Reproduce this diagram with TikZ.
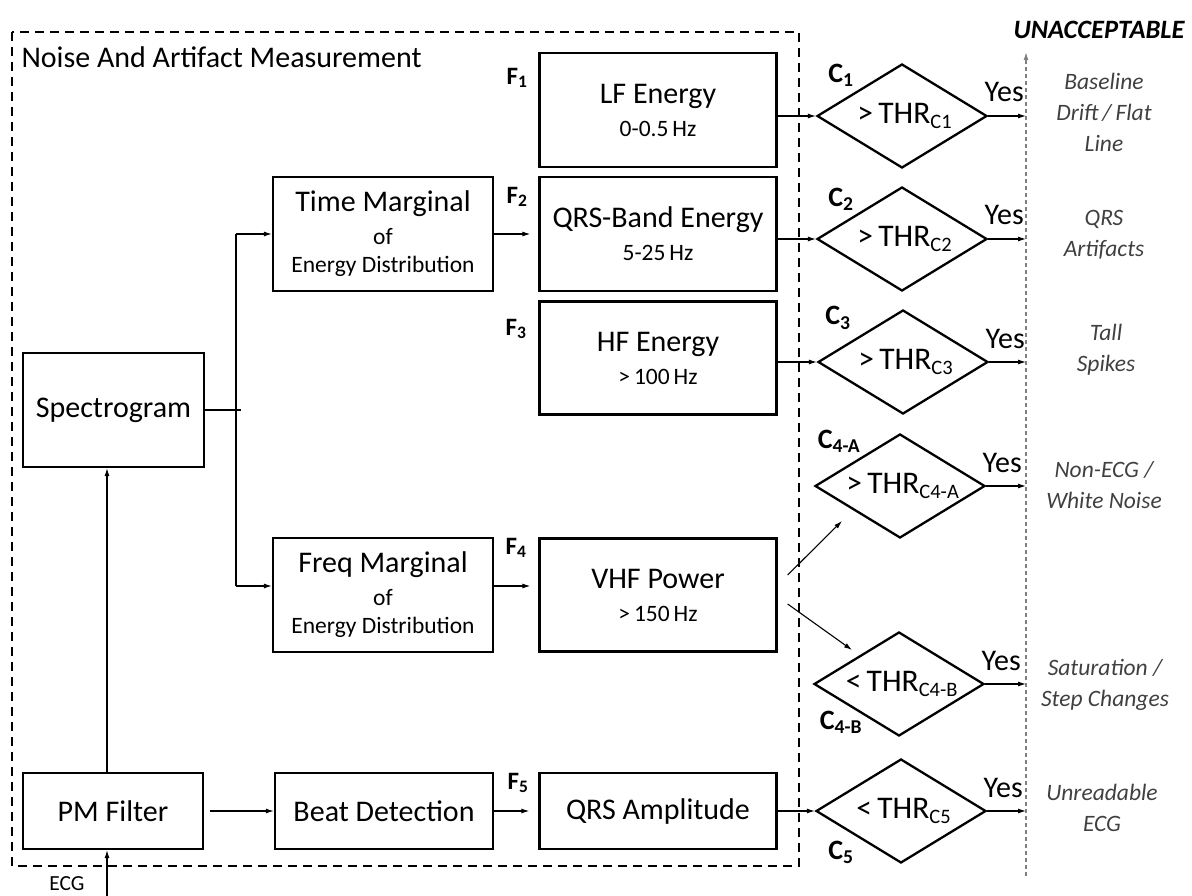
\documentclass[tikz,border=0pt]{standalone}
\usepackage{fontspec}
\setmainfont{Carlito}
\usetikzlibrary{arrows.meta,shapes.geometric,calc}

\newcommand{\bigtxt}{\fontsize{30}{33}\selectfont}
\newcommand{\smtxt}{\fontsize{23.5}{29}\selectfont}
\newcommand{\dsub}[1]{\raisebox{-5pt}{\fontsize{20.5}{20.5}\selectfont #1}}

\begin{document}
\begin{tikzpicture}[x=1pt, y=-1pt,
	blockbox/.style={draw, line width=2.3pt, minimum width=237pt, minimum height=114pt, align=center, inner sep=0pt, font=\bigtxt},
	testbox/.style={draw, diamond, shape aspect=1.635, line width=2.3pt, minimum width=170pt, minimum height=104pt, inner sep=0pt, font=\fontsize{31.5}{33}\selectfont},
	arr/.style={-{Latex[length=8pt,width=5pt]}, line width=1.1pt},
	flab/.style={font=\fontsize{25}{25}\selectfont\bfseries},
	clab/.style={font=\fontsize{28}{28}\selectfont\bfseries},
	outlab/.style={font=\fontsize{23.5}{31}\selectfont\itshape, text=black!75, align=center},
	yeslab/.style={font=\bigtxt, anchor=base west}]
	
	\useasboundingbox (0,0) rectangle (1192,896);
	
	% Measurement frame
	\draw[line width=2.3pt, dash pattern=on 9pt off 6pt] (12,32) rectangle (799,866);
	\node[anchor=west, font=\bigtxt] (title) at (18,57) {Noise And Artifact Measurement};
	
	% Left column
	\node[blockbox, minimum width=181pt] (spec) at (113.5,410) {Spectrogram};
	\node[blockbox, minimum width=180pt, minimum height=76pt] (pm) at (113,811) {PM Filter};
	
	% Marginals
	\node[blockbox, minimum width=220pt] (tm) at (383,234) {Time Marginal\\ {\smtxt of}\\[-5pt] {\smtxt Energy Distribution}};
	\node[blockbox, minimum width=220pt] (fm) at (383,595) {Freq Marginal\\ {\smtxt of}\\[-5pt] {\smtxt Energy Distribution}};
	\node[blockbox, minimum width=218pt, minimum height=76pt] (beat) at (384,811) {Beat Detection};
	
	% Features
	\node[blockbox] (lf) at (658,110) {LF Energy\\ {\smtxt 0-0.5\,Hz}};
	\node[blockbox] (qrs) at (658,234) {QRS-Band Energy\\ {\smtxt 5-25\,Hz}};
	\node[blockbox, minimum height=113pt] (hf) at (658,358) {HF Energy\\ {\smtxt >\,100\,Hz}};
	\node[blockbox, minimum height=113pt] (vhf) at (658,595) {VHF Power\\ {\smtxt >\,150\,Hz}};
	\node[blockbox, minimum height=76pt] (amp) at (658,811) {QRS Amplitude};
	
	\node[flab] (f1) at (517,78) {F\textsubscript{1}};
	\node[flab] (f2) at (517,197) {F\textsubscript{2}};
	\node[flab] (f3) at (516,329) {F\textsubscript{3}};
	\node[flab] (f4) at (516,548) {F\textsubscript{4}};
	\node[flab] (f5) at (518,783) {F\textsubscript{5}};
	
	% Threshold tests
	\node[testbox] (c1) at (902,116) {\,>\,THR\dsub{C1}};
	\node[testbox] (c2) at (902,239) {\,>\,THR\dsub{C2}};
	\node[testbox] (c3) at (903,362) {\,>\,THR\dsub{C3}};
	\node[testbox] (c4a) at (900,486) {\,>\,THR\dsub{C4-A}};
	\node[testbox] (c4b) at (899,684) {\,<\,THR\dsub{C4-B}};
	\node[testbox] (c5) at (901,811) {\,<\,THR\dsub{C5}};
	
	\node[clab] (l1) at (841,75) {C\textsubscript{1}};
	\node[clab] (l2) at (841,199) {C\textsubscript{2}};
	\node[clab] (l3) at (838,318) {C\textsubscript{3}};
	\node[clab] (l4a) at (839,441) {C\textsubscript{4-A}};
	\node[clab] (l4b) at (841,722) {C\textsubscript{4-B}};
	\node[clab] (l5) at (841,852) {C\textsubscript{5}};
	
	% Unacceptable axis
	\coordinate (ubot) at (1026,876);
	\coordinate (utop) at (1026,52);
	\draw[gray, line width=1.3pt, dash pattern=on 4pt off 3pt, -{Latex[length=8pt,width=5pt]}] (ubot) -- (utop);
	\node[font=\fontsize{26.5}{26.5}\selectfont\bfseries\itshape] (unacc) at (1099,30) {UNACCEPTABLE};
	
	\foreach \c in {c1,c2,c3,c4a,c4b,c5}{
		\draw[arr] (\c.east) -- (\c.east -| utop);
		\node[yeslab] (yes-\c) at ([xshift=-7pt,yshift=14pt]\c.east) {Yes};
	}
	
	\node[outlab] (o1) at (1104,112) {Baseline\\ Drift\,/\,Flat\\ Line};
	\node[outlab] (o2) at (1104,235) {QRS\\ Artifacts};
	\node[outlab] (o3) at (1106,350) {Tall\\ Spikes};
	\node[outlab] (o4) at (1104,485) {Non-ECG /\\ White Noise};
	\node[outlab] (o5) at (1105,685) {Saturation /\\ Step Changes};
	\node[outlab] (o6) at (1102,808) {Unreadable\\ ECG};
	
	% Input and signal flow
	\coordinate (ecg) at (107,896);
	\node[font=\fontsize{21.5}{21.5}\selectfont] (ecglab) at (67,884) {ECG};
	\draw[arr] (ecg) -- (ecg |- pm.south);
	\draw[arr] (ecg |- pm.north) -- (ecg |- spec.south);
	
	\coordinate (split) at (236,410);
	\coordinate (fmin) at ([yshift=9pt]fm.west);
	\coordinate (fmout) at ([yshift=9pt]fm.east);
	\draw[line width=1.1pt] (spec.east) -- ([xshift=5pt]split);
	\draw[line width=1.1pt] (split |- tm) -- (split |- fmin);
	\draw[arr] (split |- tm) -- (tm.west);
	\draw[arr] (split |- fmin) -- (fmin);
	\draw[arr, shorten >=8pt] (tm) -- (qrs);
	\draw[arr, shorten >=8pt] (fmout) -- (fmout -| vhf.west);
	\draw[arr] ([xshift=6pt]pm.east) -- (beat.west);
	\draw[arr, shorten >=9pt] (beat) -- (amp);
	
	% Features into tests
	\draw[arr] (lf.east |- c1) -- (c1.west);
	\draw[arr] (qrs.east |- c2) -- (c2.west);
	\draw[arr] (hf.east |- c3) -- (c3.west);
	\draw[arr] (amp.east |- c5) -- (c5.west);
	\draw[arr] ([xshift=10pt,yshift=20pt]vhf.east) -- ([xshift=-58pt,yshift=-35pt]c4a.center);
	\draw[arr] ([xshift=10pt,yshift=-9pt]vhf.east) -- ([xshift=-47pt,yshift=34pt]c4b.center);
	
\end{tikzpicture}
\end{document}
